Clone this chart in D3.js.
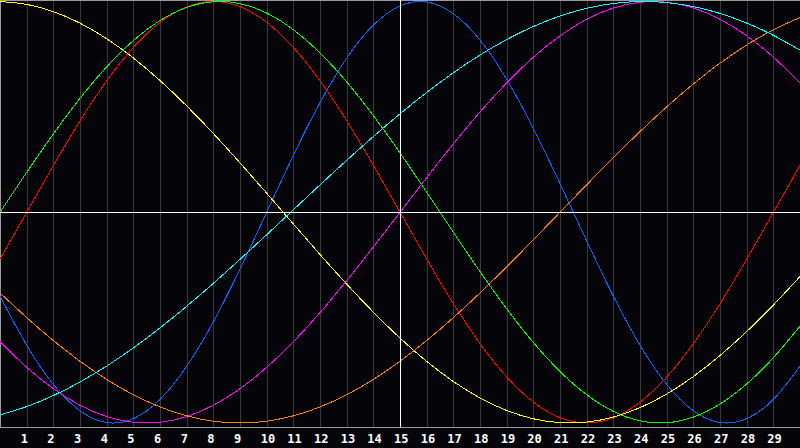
<!DOCTYPE html>
<html>
<head>
<meta charset="utf-8">
<script src="https://cdn.jsdelivr.net/npm/d3@7"></script>
<style>
  html, body { margin: 0; padding: 0; background: #050409; }
  svg { display: block; }
</style>
</head>
<body>
<svg id="chart" width="800" height="448"></svg>
<script>
// day positions across the chart (0 = left edge, 30 = right edge)
const days = [0, 1, 2, 3, 4, 5, 6, 7, 8, 9, 10, 11, 12, 13, 14, 15, 16, 17, 18, 19, 20, 21, 22, 23, 24, 25, 26, 27, 28, 29, 30];
const tickLabels = [1, 2, 3, 4, 5, 6, 7, 8, 9, 10, 11, 12, 13, 14, 15, 16, 17, 18, 19, 20, 21, 22, 23, 24, 25, 26, 27, 28, 29];
const today = 15;

// values, one per day
const blue = [-0.398, -0.631, -0.817, -0.942, -0.998, -0.979, -0.888, -0.731, -0.520, -0.270, 0, 0.270, 0.520, 0.731, 0.888, 0.979, 0.998, 0.942, 0.817, 0.631, 0.398, 0.136, -0.136, -0.398, -0.631, -0.817, -0.942, -0.998, -0.979, -0.888, -0.731];
const red = [-0.2225, 0, 0.2225, 0.4339, 0.6235, 0.7818, 0.9010, 0.9749, 1, 0.9749, 0.9010, 0.7818, 0.6235, 0.4339, 0.2225, 0, -0.2225, -0.4339, -0.6235, -0.7818, -0.9010, -0.9749, -1, -0.9749, -0.9010, -0.7818, -0.6235, -0.4339, -0.2225, 0, 0.2225];
const green = [0, 0.1893, 0.3717, 0.5406, 0.6901, 0.8146, 0.9096, 0.9718, 0.9989, 0.9898, 0.9450, 0.8660, 0.7557, 0.6182, 0.4582, 0.2817, 0.0950, -0.0950, -0.2817, -0.4582, -0.6182, -0.7557, -0.8660, -0.9450, -0.9898, -0.9989, -0.9718, -0.9096, -0.8146, -0.6901, -0.5406];
const magenta = [-0.6142, -0.7357, -0.8372, -0.9158, -0.9694, -0.9966, -0.9966, -0.9694, -0.9158, -0.8372, -0.7357, -0.6142, -0.4759, -0.3247, -0.1646, 0, 0.1646, 0.3247, 0.4759, 0.6142, 0.7357, 0.8372, 0.9158, 0.9694, 0.9966, 0.9966, 0.9694, 0.9158, 0.8372, 0.7357, 0.6142];
const yellow = [0.9998, 0.9864, 0.9520, 0.8972, 0.8234, 0.7319, 0.6249, 0.5047, 0.3736, 0.2345, 0.0905, -0.0555, -0.2003, -0.3408, -0.4740, -0.5972, -0.7076, -0.8030, -0.8812, -0.9406, -0.9800, -0.9985, -0.9958, -0.9718, -0.9270, -0.8627, -0.7796, -0.6798, -0.5663, -0.4402, -0.3049];
const orange = [-0.3827, -0.5, -0.6088, -0.7071, -0.7934, -0.8660, -0.9239, -0.9659, -0.9914, -1, -0.9914, -0.9659, -0.9239, -0.8660, -0.7934, -0.7071, -0.6088, -0.5, -0.3827, -0.2588, -0.1305, 0, 0.1305, 0.2588, 0.3827, 0.5, 0.6088, 0.7071, 0.7934, 0.8660, 0.9239];
const cyan = [-0.9615, -0.9222, -0.8699, -0.8053, -0.7296, -0.6438, -0.5488, -0.4461, -0.3371, -0.2233, -0.1065, 0.0119, 0.1300, 0.2464, 0.3593, 0.4671, 0.5684, 0.6618, 0.7459, 0.8195, 0.8814, 0.9311, 0.9677, 0.9907, 0.9998, 0.9949, 0.9760, 0.9434, 0.8977, 0.8393, 0.7690];

const series = [
    { values: blue, color: '#0a64ff' },
    { values: red, color: '#ff0000' },
    { values: green, color: '#00ff00' },
    { values: magenta, color: '#ff00ff' },
    { values: yellow, color: '#ffff00' },
    { values: orange, color: '#ff8000' },
    { values: cyan, color: '#00ffff' },
];

document.addEventListener('DOMContentLoaded', function () {
    const svg = d3.select('#chart');
    const width = 800;
    const plotBottom = 427;

    const xScale = d3.scaleLinear().domain([0, 30]).range([0, width]);
    const yScale = d3.scaleLinear().domain([-1, 1]).range([423, 1.5]);

    // day grid
    svg.append('g')
        .selectAll('line')
        .data(tickLabels)
        .enter()
        .append('line')
        .attr('x1', d => Math.round(xScale(d)) + 0.5)
        .attr('x2', d => Math.round(xScale(d)) + 0.5)
        .attr('y1', 0)
        .attr('y2', plotBottom)
        .attr('stroke', '#3a3a3a')
        .attr('shape-rendering', 'crispEdges');

    // frame: top, left, bottom
    svg.append('path')
        .attr('d', `M${width},0.5H0.5V${plotBottom + 0.5}H${width}`)
        .attr('fill', 'none')
        .attr('stroke', '#9a9a9a')
        .attr('shape-rendering', 'crispEdges');

    const line = d3.line()
        .x((d, i) => xScale(days[i]))
        .y(d => yScale(d))
        .curve(d3.curveNatural);

    svg.append('g')
        .selectAll('path')
        .data(series)
        .enter()
        .append('path')
        .attr('d', d => line(d.values))
        .attr('fill', 'none')
        .attr('stroke', d => d.color)
        .attr('stroke-width', 1)
        .attr('shape-rendering', 'crispEdges');

    // zero line and today marker
    svg.append('line')
        .attr('x1', 0).attr('x2', width)
        .attr('y1', Math.round(yScale(0)) + 0.5)
        .attr('y2', Math.round(yScale(0)) + 0.5)
        .attr('stroke', '#ffffff')
        .attr('shape-rendering', 'crispEdges');

    svg.append('line')
        .attr('x1', Math.round(xScale(today)) + 0.5)
        .attr('x2', Math.round(xScale(today)) + 0.5)
        .attr('y1', 0).attr('y2', plotBottom)
        .attr('stroke', '#ffffff')
        .attr('shape-rendering', 'crispEdges');

    // day labels
    svg.append('g')
        .selectAll('text')
        .data(tickLabels)
        .enter()
        .append('text')
        .attr('x', d => xScale(d) - 6)
        .attr('y', 443)
        .attr('fill', '#ffffff')
        .attr('font-family', 'DejaVu Sans Mono, monospace')
        .attr('font-weight', 'bold')
        .attr('font-size', '12px')
        .text(d => d);
});
</script>
</body>
</html>
